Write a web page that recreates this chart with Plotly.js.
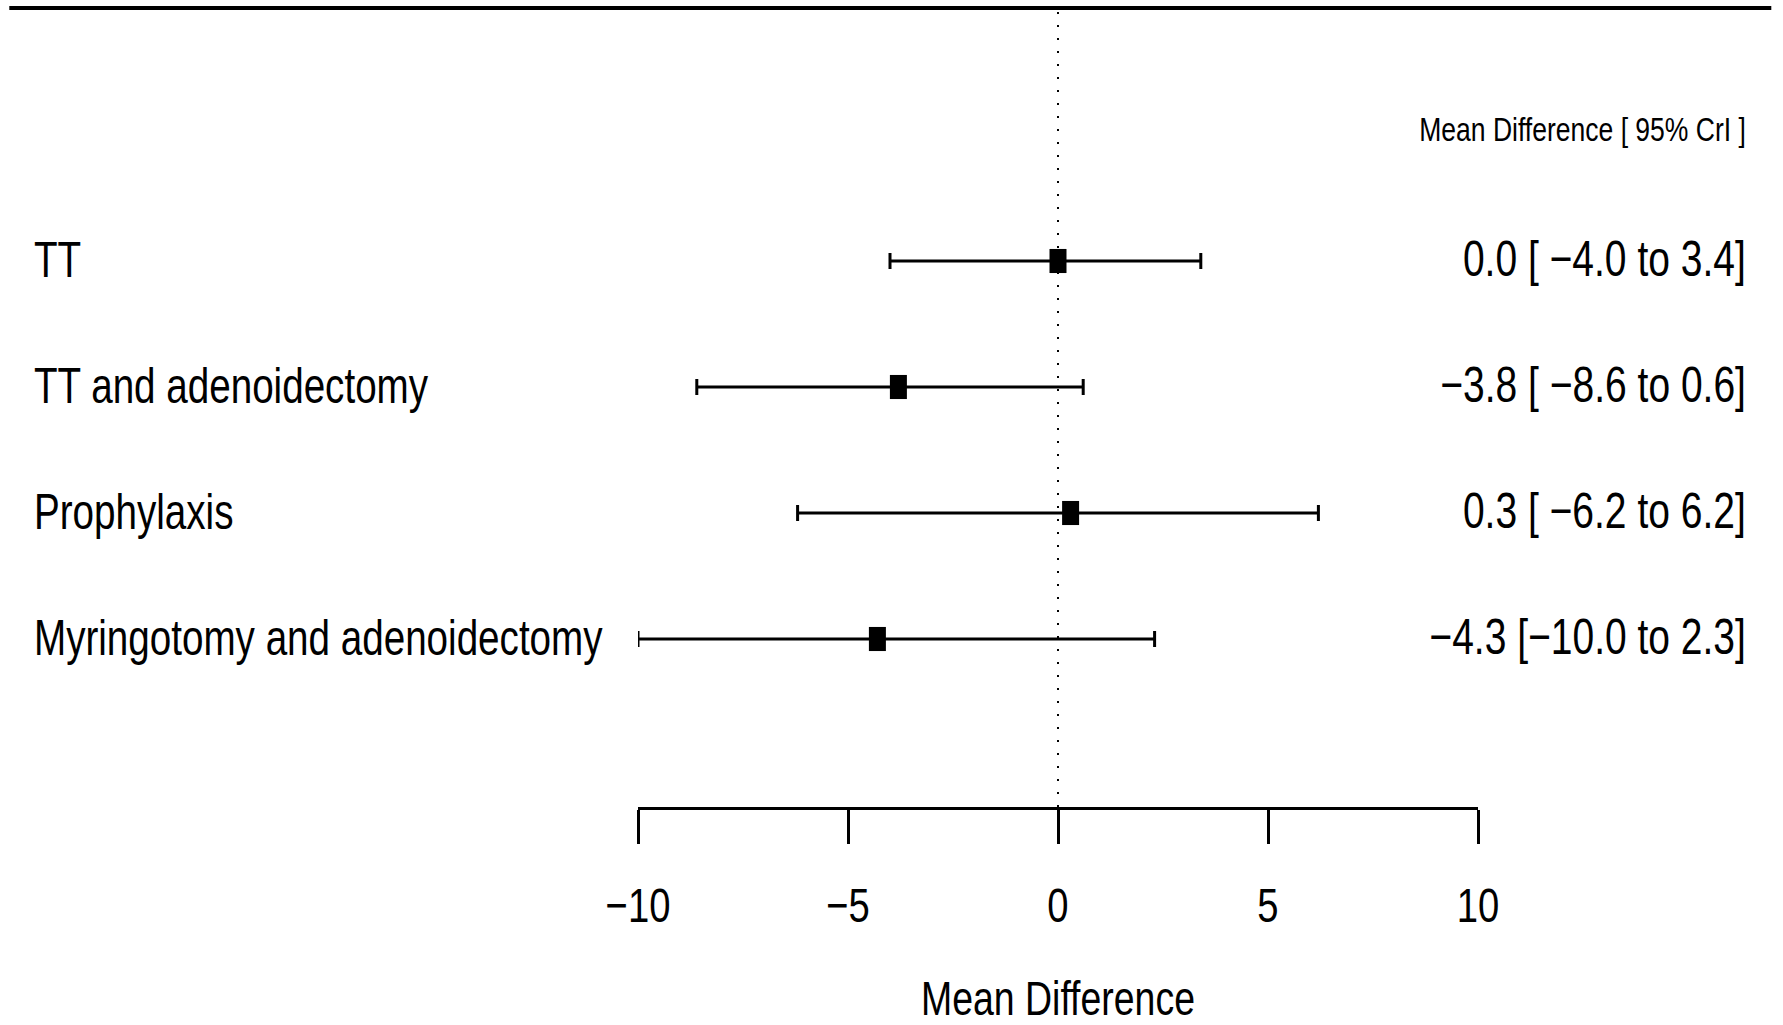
<!DOCTYPE html>
<html>
<head>
<meta charset="utf-8">
<script src="https://cdn.plot.ly/plotly-3.0.1.min.js"></script>
<style>html,body{margin:0;padding:0;background:#fff;}#chart{width:1783px;height:1025px;}</style>
</head>
<body>
<div id="chart"></div>
<script>
// ---- data ----
const treatments = ["TT", "TT and adenoidectomy", "Prophylaxis", "Myringotomy and adenoidectomy"];
const meanDiff = [0.0, -3.8, 0.3, -4.3];
const lowerCrI = [-4.0, -8.6, -6.2, -10.0];
const upperCrI = [3.4, 0.6, 6.2, 2.3];
const tickValues = [-10, -5, 0, 5, 10];
const tickLabels = ["\u221210", "\u22125", "0", "5", "10"];
const headerText = "Mean Difference [ 95% CrI ]";
const axisTitle = "Mean Difference";

// ---- layout helpers ----
const W = 1783, H = 1025;
const plotL = 637.7, plotR = 1477.7, plotB = 807;
const FONT = '"Liberation Sans Narrow", "Liberation Sans", Arial, sans-serif';
const NARROW = 0.78; // horizontal condensing of the lettering
const n = treatments.length;
const rowY = treatments.map((_, i) => n - i); // top row highest
const px2paperX = p => (p - plotL) / (plotR - plotL);

function fmt(v) { return (v < 0 ? "\u2212" : "") + Math.abs(v).toFixed(1); }
function padL(s, w) { return s.length < w ? " " + s : s; }

const trace = {
  type: "scatter",
  mode: "markers",
  x: meanDiff,
  y: rowY,
  marker: {symbol: "line-ns-open", size: 17.2, color: "black", line: {color: "black", width: 17}},
  error_x: {
    type: "data", symmetric: false,
    array: meanDiff.map((m, i) => upperCrI[i] - m),
    arrayminus: meanDiff.map((m, i) => m - lowerCrI[i]),
    color: "black", thickness: 3, width: 8
  },
  hoverinfo: "skip",
  showlegend: false
};

const annotations = [];
treatments.forEach((t, i) => {
  annotations.push({
    xref: "paper", yref: "y", x: px2paperX(32), y: rowY[i], yshift: 2,
    text: t, showarrow: false, xanchor: "left", yanchor: "middle", align: "left",
    font: {family: FONT, size: 49.5, color: "black"}
  });
  const txt = fmt(meanDiff[i]) + " [" + padL(fmt(lowerCrI[i]), 5) + " to " + fmt(upperCrI[i]) + "]";
  annotations.push({
    xref: "paper", yref: "y", x: px2paperX(1748), y: rowY[i], yshift: 2,
    text: txt, showarrow: false, xanchor: "right", yanchor: "middle", align: "right",
    font: {family: FONT, size: 50, color: "black"}
  });
});
annotations.push({
  xref: "paper", yref: "paper", x: px2paperX(1748), y: 1 - 129 / plotB,
  text: headerText, showarrow: false, xanchor: "right", yanchor: "middle", align: "right",
  font: {family: FONT, size: 34, color: "black"}
});

const shapes = [
  {type: "line", xref: "paper", yref: "paper", x0: px2paperX(9), x1: px2paperX(1771),
   y0: 1 - 8 / plotB, y1: 1 - 8 / plotB, line: {color: "black", width: 4}},
  {type: "line", xref: "x", yref: "paper", x0: 0, x1: 0, y0: 0, y1: 1 - 12 / plotB,
   line: {color: "black", width: 2, dash: "2px,11px"}}
];

const yTop = rowY[0] + 261 / 126;
const yBot = rowY[n - 1] - (plotB - 639) / 126;

const layout = {
  width: W, height: H,
  margin: {l: plotL, r: W - plotR, t: 0, b: H - plotB, pad: 0},
  paper_bgcolor: "white", plot_bgcolor: "white",
  showlegend: false,
  xaxis: {
    range: [-10, 10], fixedrange: true,
    tickmode: "array", tickvals: tickValues, ticktext: tickLabels,
    ticks: "outside", ticklen: 34, tickwidth: 3, tickcolor: "black",
    showline: true, linecolor: "black", linewidth: 3,
    showgrid: false, zeroline: false,
    tickfont: {family: FONT, size: 49, color: "black"},
    ticklabelstandoff: 19,
    title: {text: axisTitle, font: {family: FONT, size: 48, color: "black"}, standoff: 54}
  },
  yaxis: {
    range: [yBot, yTop], fixedrange: true,
    visible: false, showgrid: false, zeroline: false
  },
  shapes: shapes,
  annotations: annotations
};

Plotly.newPlot("chart", [trace], layout, {displayModeBar: false, staticPlot: true}).then(gd => {
  // condense the lettering horizontally about each text's own anchor point
  gd.querySelectorAll("text").forEach(el => {
    if (!el.textContent.trim()) return;
    const x = parseFloat(el.getAttribute("x")) || 0;
    const prev = el.getAttribute("transform") || "";
    el.setAttribute("transform",
      (prev + " translate(" + x + ",0) scale(" + NARROW + ",1) translate(" + (-x) + ",0)").trim());
  });
});
</script>
</body>
</html>
